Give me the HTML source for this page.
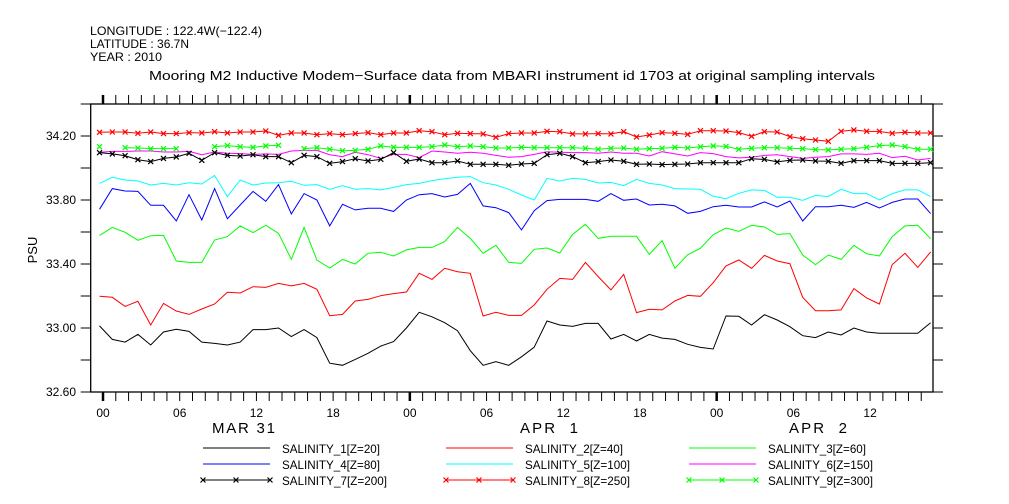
<!DOCTYPE html>
<html><head><meta charset="utf-8"><style>
html,body{margin:0;padding:0;background:#fff;}
svg{display:block;font-family:"Liberation Sans",sans-serif;}
</style></head><body>
<svg id="chart" width="1009" height="504" xmlns="http://www.w3.org/2000/svg">
<rect width="1009" height="504" fill="#fff"/>
<text x="90" y="35" font-size="12" textLength="172" lengthAdjust="spacingAndGlyphs">LONGITUDE : 122.4W(−122.4)</text>
<text x="90" y="48" font-size="12" textLength="99" lengthAdjust="spacingAndGlyphs">LATITUDE : 36.7N</text>
<text x="90" y="61" font-size="12" textLength="72" lengthAdjust="spacingAndGlyphs">YEAR : 2010</text>
<text x="149" y="80" font-size="13" textLength="726" lengthAdjust="spacingAndGlyphs">Mooring M2 Inductive Modem−Surface data from MBARI instrument id 1703 at original sampling intervals</text>
<text x="37" y="250" font-size="13" text-anchor="middle" transform="rotate(-90 37 250)">PSU</text>
<text x="212" y="433" font-size="15" textLength="63" lengthAdjust="spacing">MAR 31</text>
<text x="520" y="433" font-size="15" textLength="58" lengthAdjust="spacing" xml:space="preserve">APR  1</text>
<text x="789" y="433" font-size="15" textLength="58" lengthAdjust="spacing" xml:space="preserve">APR  2</text>
<g id="axes"></g><g id="series"></g><g id="legend"></g>
</svg>
<script>
const yTicks=[32.6,32.8,33.0,33.2,33.4,33.6,33.8,34.0,34.2,34.4];
const yLabels=["32.60","33.00","33.40","33.80","34.20"];
const xLabelHours=[0,6,12,18,24,30,36,42,48,54,60];
const xLabelText=["00","06","12","18","00","06","12","18","00","06","12"];
const tStart=-0.27;
const s1=[33.013,32.929,32.912,32.96,32.894,32.975,32.992,32.979,32.912,32.904,32.894,32.912,32.99,32.99,33.0,32.946,32.99,32.94,32.78,32.767,32.804,32.842,32.887,32.915,33.0,33.098,33.07,33.033,32.983,32.858,32.767,32.79,32.767,32.82,32.88,33.044,33.019,33.01,33.029,33.029,32.931,32.96,32.919,32.96,32.937,32.929,32.898,32.879,32.869,33.075,33.073,33.019,33.083,33.05,33.008,32.952,32.94,32.975,32.956,33.0,32.975,32.967,32.967,32.967,32.967,33.033];
const s2=[33.198,33.192,33.135,33.167,33.019,33.154,33.106,33.085,33.119,33.15,33.223,33.219,33.258,33.254,33.279,33.263,33.279,33.242,33.077,33.085,33.169,33.179,33.202,33.215,33.225,33.342,33.304,33.373,33.352,33.342,33.075,33.098,33.079,33.079,33.144,33.242,33.31,33.304,33.41,33.321,33.238,33.335,33.096,33.117,33.113,33.169,33.204,33.198,33.283,33.388,33.425,33.373,33.454,33.419,33.402,33.192,33.108,33.108,33.113,33.246,33.188,33.15,33.396,33.467,33.379,33.475];
const s3=[33.579,33.629,33.598,33.548,33.577,33.579,33.419,33.41,33.41,33.55,33.571,33.638,33.596,33.642,33.592,33.429,33.629,33.425,33.375,33.429,33.4,33.467,33.473,33.45,33.488,33.504,33.504,33.54,33.629,33.56,33.467,33.517,33.41,33.404,33.492,33.5,33.469,33.585,33.648,33.56,33.573,33.573,33.573,33.46,33.546,33.373,33.458,33.498,33.583,33.625,33.604,33.642,33.631,33.585,33.59,33.456,33.396,33.456,33.429,33.517,33.464,33.45,33.571,33.638,33.642,33.558];
const s4=[33.742,33.871,33.856,33.854,33.767,33.767,33.669,33.833,33.675,33.871,33.683,33.769,33.854,33.792,33.896,33.713,33.84,33.8,33.638,33.773,33.738,33.748,33.748,33.729,33.8,33.833,33.84,33.819,33.835,33.904,33.763,33.752,33.721,33.613,33.733,33.796,33.804,33.804,33.804,33.792,33.84,33.798,33.806,33.769,33.773,33.763,33.717,33.729,33.758,33.767,33.756,33.756,33.788,33.756,33.794,33.669,33.758,33.758,33.767,33.754,33.785,33.75,33.785,33.806,33.806,33.715];
const s5=[33.904,33.942,33.925,33.919,33.894,33.904,33.894,33.908,33.9,33.954,33.821,33.925,33.894,33.906,33.908,33.917,33.892,33.896,33.867,33.89,33.867,33.871,33.863,33.879,33.896,33.904,33.921,33.933,33.942,33.946,33.908,33.894,33.867,33.831,33.8,33.935,33.919,33.935,33.929,33.906,33.91,33.89,33.929,33.904,33.894,33.871,33.869,33.867,33.823,33.808,33.842,33.863,33.86,33.817,33.817,33.798,33.829,33.821,33.867,33.84,33.84,33.8,33.84,33.863,33.863,33.821];
const s6=[34.098,34.104,34.104,34.106,34.106,34.1,34.1,34.104,34.083,34.1,34.092,34.09,34.085,34.088,34.085,34.106,34.11,34.11,34.083,34.071,34.098,34.083,34.06,34.085,34.085,34.065,34.106,34.1,34.092,34.098,34.092,34.079,34.067,34.071,34.085,34.102,34.098,34.096,34.096,34.092,34.1,34.092,34.092,34.075,34.102,34.088,34.075,34.096,34.09,34.071,34.063,34.067,34.079,34.083,34.071,34.06,34.067,34.071,34.088,34.088,34.085,34.092,34.065,34.073,34.05,34.06];
const s7=[34.096,34.088,34.077,34.052,34.04,34.06,34.069,34.092,34.048,34.096,34.079,34.075,34.083,34.071,34.071,34.033,34.079,34.071,34.029,34.04,34.058,34.044,34.054,34.096,34.042,34.056,34.033,34.033,34.044,34.023,34.023,34.023,34.017,34.025,34.029,34.083,34.092,34.071,34.033,34.04,34.05,34.042,34.023,34.025,34.021,34.023,34.025,34.033,34.033,34.033,34.033,34.058,34.054,34.038,34.048,34.05,34.044,34.042,34.029,34.046,34.046,34.046,34.029,34.029,34.029,34.033];
const s8=[34.223,34.225,34.225,34.217,34.225,34.215,34.215,34.221,34.219,34.227,34.219,34.225,34.225,34.231,34.204,34.219,34.219,34.208,34.215,34.208,34.215,34.221,34.208,34.219,34.219,34.233,34.227,34.208,34.217,34.215,34.213,34.192,34.215,34.219,34.219,34.229,34.227,34.213,34.213,34.215,34.213,34.227,34.194,34.206,34.221,34.217,34.21,34.233,34.233,34.231,34.221,34.198,34.227,34.225,34.196,34.183,34.175,34.167,34.229,34.238,34.229,34.229,34.217,34.223,34.219,34.219];
const s9=[34.133,null,34.127,34.125,34.121,34.121,34.121,null,null,34.133,34.14,34.133,34.129,34.138,34.142,null,34.121,34.127,34.117,34.108,34.11,34.117,34.138,34.129,34.129,34.129,34.133,34.144,34.133,34.138,34.133,34.125,34.125,34.129,34.127,34.127,34.127,34.127,34.123,34.117,34.123,34.125,34.117,34.121,34.123,34.129,34.125,34.133,34.138,34.135,34.117,34.123,34.127,34.127,34.123,34.121,34.115,34.113,34.117,34.121,34.129,34.14,34.144,34.133,34.117,34.117];
const seriesNames=["SALINITY_1[Z=20]","SALINITY_2[Z=40]","SALINITY_3[Z=60]","SALINITY_4[Z=80]","SALINITY_5[Z=100]","SALINITY_6[Z=150]","SALINITY_7[Z=200]","SALINITY_8[Z=250]","SALINITY_9[Z=300]"];

const NS="http://www.w3.org/2000/svg";
const L=90.7,R=933,T=104,B=392;
const xOf=h=>103+12.785*h;
const yOf=v=>392-(v-32.6)*160;
function mk(tag,attrs,parent){const e=document.createElementNS(NS,tag);for(const k in attrs)e.setAttribute(k,attrs[k]);parent.appendChild(e);return e;}
const axes=document.getElementById('axes');
const frame=mk('rect',{x:L,y:T,width:R-L,height:B-T,fill:'none',stroke:'#000','stroke-width':1.3},axes);


for(let h=0;h<=64;h++){
  const x=xOf(h);const major=h%24===0;
  const t1=mk('line',{x1:x,x2:x,y1:T,y2:T-9,stroke:'#000','stroke-width':major?2.5:1},axes);
  
  
  const t2=mk('line',{x1:x,x2:x,y1:B,y2:B+9,stroke:'#000','stroke-width':major?2.5:1},axes);
  
  
}
xLabelHours.forEach((h,i)=>{
  const t=mk('text',{x:xOf(h),y:417,'font-size':12,'text-anchor':'middle'},axes);t.textContent=xLabelText[i];
  
  
});
yTicks.forEach(v=>{
  const y=yOf(v);if(y<T-1)return;
  const a=mk('line',{x1:L-10,x2:L,y1:y,y2:y,stroke:'#000'},axes);
  
  
  const b=mk('line',{x1:R,x2:R+10,y1:y,y2:y,stroke:'#000'},axes);
  
  
});
yLabels.forEach(s=>{
  const t=mk('text',{x:76,y:yOf(parseFloat(s))+4,'font-size':12,'text-anchor':'end'},axes);t.textContent=s;
  
  
});
const colors=['#000','#f00','#0f0','#00f','#0ff','#f0f','#000','#f00','#0f0'];
const all=[s1,s2,s3,s4,s5,s6,s7,s8,s9];
const sg=document.getElementById('series');
function cross(x,y,c,p){return mk('path',{d:`M${x-2.5},${y-2.5}L${x+2.5},${y+2.5}M${x-2.5},${y+2.5}L${x+2.5},${y-2.5}`,stroke:c,'stroke-width':1.2,fill:'none'},p);}
all.forEach((arr,si)=>{
  let d='',pen=false;
  arr.forEach((v,i)=>{if(v===null){pen=false;return;}const x=xOf(tStart+i),y=yOf(v);d+=(pen?'L':'M')+x.toFixed(1)+','+y.toFixed(1);pen=true;});
  const p=mk('path',{d:d,fill:'none',stroke:colors[si],'stroke-width':1},sg);
  
  
  if(si>=6){arr.forEach((v,i)=>{if(v===null)return;const m=cross(xOf(tStart+i),yOf(v),colors[si],sg);
    
    });}
});
const lg=document.getElementById('legend');
const colX=[203,446,689],rowY=[448,464,480];
seriesNames.forEach((n,i)=>{
  const cx=colX[i%3],ry=rowY[Math.floor(i/3)];
  const g=mk('g',{},lg);
  
  
  mk('line',{x1:cx,x2:cx+67,y1:ry,y2:ry,stroke:colors[i],'stroke-width':1},g);
  if(i>=6){[cx,cx+33,cx+67].forEach(x=>cross(x,ry,colors[i],g));}
  const t=mk('text',{x:cx+79,y:ry+5,'font-size':12,'textLength':(n.length*6.15).toFixed(0),'lengthAdjust':'spacingAndGlyphs'},g);t.textContent=n;
});
</script>
</body></html>
